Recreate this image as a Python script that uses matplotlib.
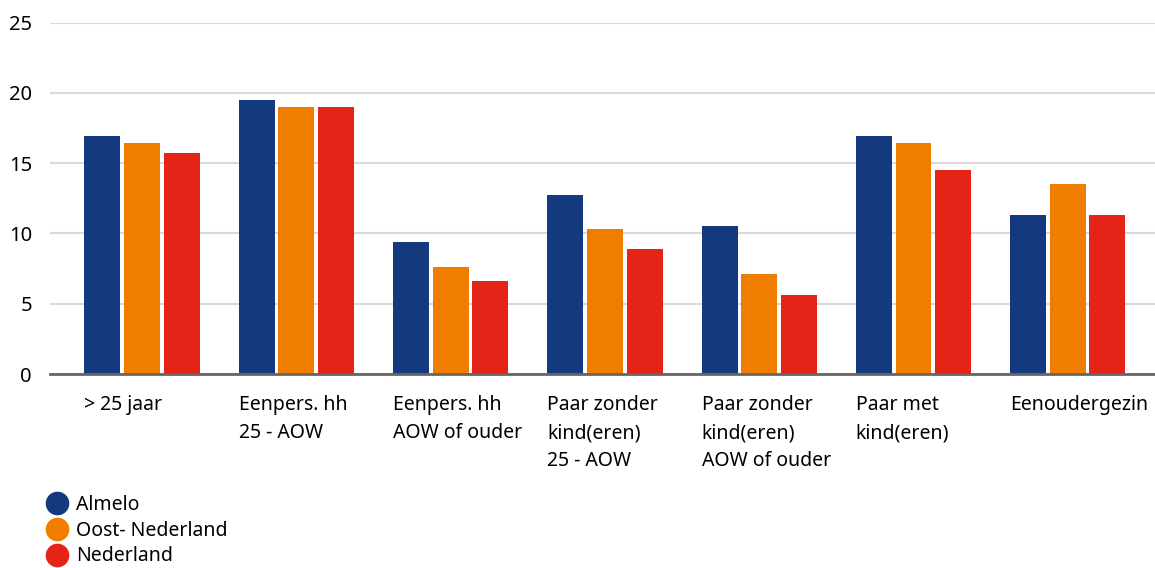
import numpy as np
import matplotlib
matplotlib.use("Agg")
import matplotlib.pyplot as plt
from matplotlib.lines import Line2D

plt.rcParams['font.family'] = ['Noto Sans', 'DejaVu Sans']

categories = ["> 25 jaar", "Eenpers. hh\n25 - AOW", "Eenpers. hh\nAOW of ouder",
              "Paar zonder\nkind(eren)\n25 - AOW", "Paar zonder\nkind(eren)\nAOW of ouder",
              "Paar met\nkind(eren)", "Eenoudergezin"]
almelo = [16.9, 19.5, 9.4, 12.7, 10.5, 16.9, 11.3]
oost = [16.4, 19.0, 7.6, 10.3, 7.1, 16.4, 13.5]
nederland = [15.7, 19.0, 6.6, 8.9, 5.6, 14.5, 11.3]
series_names = ["Almelo", "Oost- Nederland", "Nederland"]
colors = ["#15397F", "#EF7D00", "#E32416"]

fig = plt.figure(figsize=(11.55, 5.68), dpi=100)
ax = fig.add_axes([50 / 1155, 1 - 374 / 568, 1 - 50 / 1155, (374 - 22.5) / 568])

x = np.arange(len(categories))
w = 0.233
step = 0.257
for k, (vals, c) in enumerate(zip([almelo, oost, nederland], colors)):
    ax.bar(x + (k - 1) * step, vals, width=w, color=c, zorder=3)

ax.set_ylim(0, 25)
ax.set_xlim(-0.596, 6.565)
ax.set_yticks([0, 5, 10, 15, 20, 25])
ax.grid(axis='y', color='#d9d9d9', linewidth=1.5, zorder=0)
for s in ['top', 'right', 'left']:
    ax.spines[s].set_visible(False)
ax.spines['bottom'].set_color('#666666')
ax.spines['bottom'].set_linewidth(2)
ax.spines['bottom'].set_zorder(4)

ax.tick_params(axis='y', length=0, labelsize=14.5, pad=13)
ax.set_xticks(x - step - w / 2)
ax.set_xticklabels(categories, ha='left', fontsize=14, linespacing=1.55)
ax.tick_params(axis='x', length=0, pad=15)

handles = [Line2D([], [], marker='o', linestyle='none', markersize=16,
                  markerfacecolor=c, markeredgecolor=c) for c in colors]
fig.legend(handles, series_names, loc='upper left', bbox_to_anchor=(0.031, 0.146),
           frameon=False, fontsize=14, handletextpad=0.35, labelspacing=0.3,
           borderpad=0, handlelength=1.2)

fig.savefig("out.png", dpi=100)
